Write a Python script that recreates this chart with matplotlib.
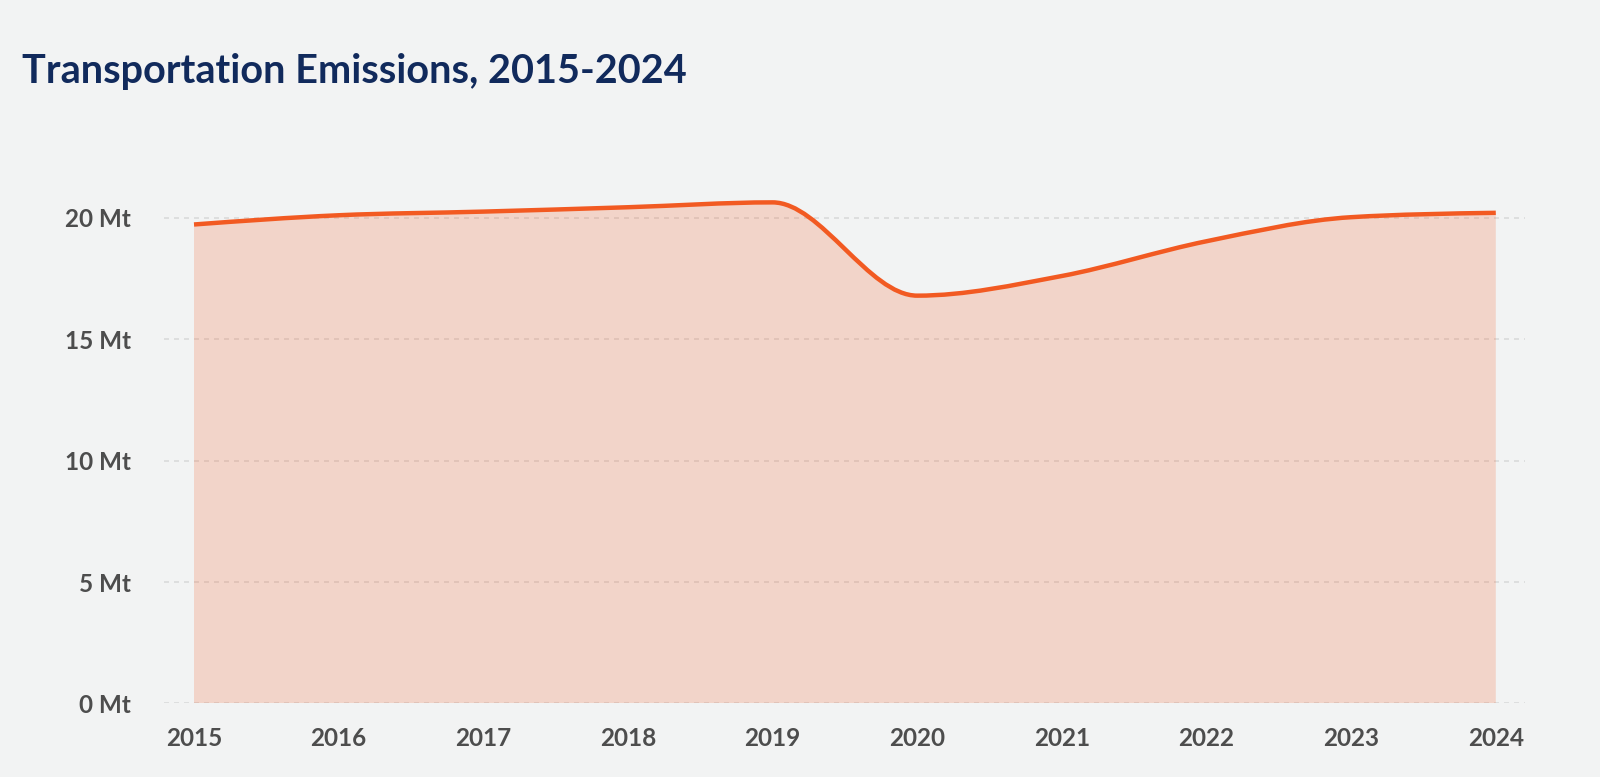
import numpy as np
import matplotlib.pyplot as plt
from matplotlib.path import Path
from matplotlib.patches import PathPatch

years = [2015, 2016, 2017, 2018, 2019, 2020, 2021, 2022, 2023, 2024]
emissions = [19.72, 20.1, 20.25, 20.43, 20.63, 16.79, 17.6, 19.03, 20.02, 20.2]  # Mt
y_ticks = [0, 5, 10, 15, 20]
y_labels = ['0 Mt', '5 Mt', '10 Mt', '15 Mt', '20 Mt']
title = 'Transportation Emissions, 2015-2024'

line_color = '#f25a22'
bg = '#f2f3f3'


def monotone_tangents(x, y):
    # same tangents as a monotone-x curve
    n = len(x)
    h = np.diff(x)
    s = np.diff(y) / h
    t = np.zeros(n)
    for i in range(1, n - 1):
        p = (s[i - 1] * h[i] + s[i] * h[i - 1]) / (h[i - 1] + h[i])
        t[i] = (np.sign(s[i - 1]) + np.sign(s[i])) * min(abs(s[i - 1]), abs(s[i]), 0.5 * abs(p))
    t[0] = (3 * s[0] - t[1]) / 2
    t[-1] = (3 * s[-1] - t[-2]) / 2
    return t


def curve_vertices(x, y):
    t = monotone_tangents(x, y)
    verts = [(x[0], y[0])]
    codes = [Path.MOVETO]
    for i in range(len(x) - 1):
        dx = (x[i + 1] - x[i]) / 3
        verts += [(x[i] + dx, y[i] + dx * t[i]),
                  (x[i + 1] - dx, y[i + 1] - dx * t[i + 1]),
                  (x[i + 1], y[i + 1])]
        codes += [Path.CURVE4] * 3
    return verts, codes


x = np.array(years, dtype=float)
y = np.array(emissions, dtype=float)
verts, codes = curve_vertices(x, y)

fig = plt.figure(figsize=(16, 7.77), dpi=100, facecolor=bg)
ax = fig.add_axes([0.1025, 0.0946, 0.8505, 0.7034])
ax.set_facecolor(bg)

# area under the curve
fill_verts = verts + [(x[-1], 0), (x[0], 0), (x[0], y[0])]
fill_codes = codes + [Path.LINETO, Path.LINETO, Path.CLOSEPOLY]
ax.add_patch(PathPatch(Path(fill_verts, fill_codes), facecolor=line_color, alpha=0.2,
                       edgecolor='none', zorder=2))
ax.add_patch(PathPatch(Path(verts, codes), facecolor='none', edgecolor=line_color,
                       lw=3.2, capstyle='butt', joinstyle='round', zorder=3))

ax.set_xlim(2015 - 30 / 144.6, 2024 + 29 / 144.6)
ax.set_ylim(0, 22.5)
ax.set_xticks(years)
ax.set_xticklabels([str(v) for v in years])
ax.set_yticks(y_ticks)
ax.set_yticklabels(y_labels)

ax.grid(axis='y', color='#d9dada', linestyle=(0, (3, 3)), linewidth=1.2, zorder=1)
ax.set_axisbelow(True)
for sp in ax.spines.values():
    sp.set_visible(False)

ax.tick_params(axis='both', length=0, labelcolor='#4d4d4d')
ax.tick_params(axis='y', pad=24)
ax.tick_params(axis='x', pad=17)
for lab in ax.get_xticklabels() + ax.get_yticklabels():
    lab.set_fontfamily('Lato')
    lab.set_fontweight('bold')
    lab.set_fontsize(17.5)

fig.text(22 / 1600, 1 - 83 / 777, title, fontsize=28.5, fontweight='bold',
         family='Lato', color='#112a5c', va='baseline', ha='left')

fig.savefig('out.png', dpi=100, facecolor=bg)
